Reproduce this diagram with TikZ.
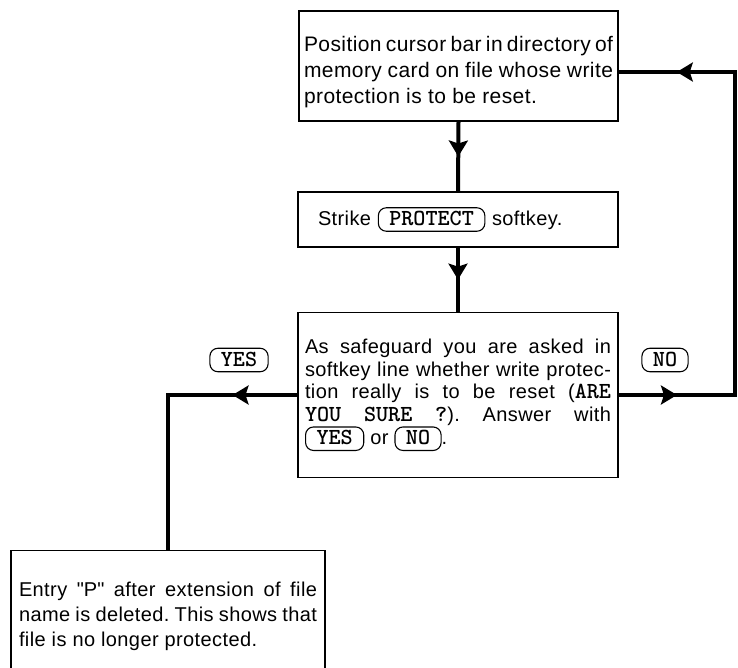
\documentclass[tikz,border=0pt]{standalone}
\usepackage{fontspec}
\setmainfont{Liberation Sans}[LetterSpace=2]
\usetikzlibrary{arrows.meta,decorations.markings}
\tolerance=9999
\hyphenpenalty=10000
\frenchspacing
\newcommand\keycap[2]{\tikz[baseline=(#1.base)]\node[key](#1){#2};}
\newcommand\mono[1]{{\fontsize{23}{23}\selectfont\ttfamily\bfseries #1}}
\tikzset{
  box/.style={draw, line width=1.2pt, inner ysep=0pt, align=justify, font=\fontsize{20}{26}\selectfont},
  key/.style={draw, line width=1.1pt, rounded corners=8pt, text width={}, minimum width=0pt, minimum height=0pt,
    text height=13pt, text depth=0.5pt, inner xsep=11pt, inner ysep=5pt, align=center,
    font=\fontsize{23}{23}\selectfont\ttfamily\bfseries},
  flow/.style={line width=4pt, line join=miter},
  midarrow/.style={postaction={decorate}, decoration={markings,
    mark=at position 0.5 with {\arrow{Stealth[length=16pt,width=19pt,inset=3pt]}}}},
}
\begin{document}
\frenchspacing
\begin{tikzpicture}[x=1pt,y=-1pt]
\useasboundingbox (0,0) rectangle (738,667);
\clip (0,0) rectangle (738,667);

\node[box, text width=309pt, inner xsep=5pt, minimum height=110pt, text height=27pt,
  font=\fontsize{21}{26}\selectfont] (b1) at (458.5,66)
  {Position cursor bar in directory of\linebreak memory card on file whose write\linebreak protection is to be reset.};

\node[box, text width=280pt, inner xsep=20pt, minimum height=55pt, align=left] (b2) at (458,219.5)
  {Strike \keycap{k1}{PROTECT} softkey.};

\node[box, line width=1.8pt, text width=306pt, inner xsep=7pt, minimum height=165pt,
  font=\fontsize{20}{22.6}\selectfont] (b3) at (458,395)
  {As safeguard you are asked in\linebreak softkey line whether write protec-\linebreak tion really is to be reset (\mono{ARE}\linebreak \mono{YOU} \mono{SURE} \mono{?}). Answer with\linebreak \keycap{k2}{YES} or \keycap{k3}{NO}.};

\node[box, text width=298pt, inner xsep=8pt, minimum height=132pt, anchor=north,
  font=\fontsize{20}{25}\selectfont] (b4) at (168,550)
  {Entry \textquotedbl P\textquotedbl{} after extension of file\linebreak name is deleted. This shows that\linebreak file is no longer protected.};

\node[key] (lyes) at (239,360) {YES};
\node[key] (lno) at (665,360) {NO};

\coordinate (c2) at (735,72);

\draw[flow,midarrow] (b1.south) -- (b2.north);
\draw[flow,midarrow] (b2.south) -- (b3.north);

\draw[flow] (b3.east) -- (b3.east -| c2) -- (c2) -- (c2 -| b1.east);
\draw[flow,midarrow] (b3.east) -- (b3.east -| c2);
\draw[flow,midarrow] (c2) -- (c2 -| b1.east);

\draw[flow] (b3.west) -- (b3.west -| b4.north) -- (b4.north);
\draw[flow,midarrow] (b3.west) -- (b3.west -| b4.north);
\end{tikzpicture}
\end{document}
